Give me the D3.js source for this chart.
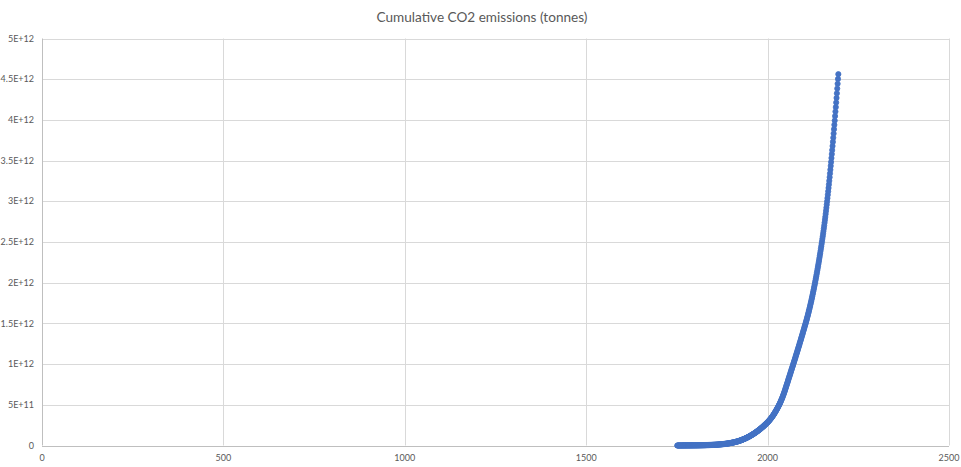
<!DOCTYPE html>
<html><head><meta charset="utf-8">
<script src="https://cdn.jsdelivr.net/npm/d3@7"></script>
<style>body{margin:0;background:#fff} svg{display:block}</style>
</head><body><svg id="c" width="961" height="467"></svg>
<script>
const chartTitle = "Cumulative CO2 emissions (tonnes)";
const firstYear = 1751;
const valueUnit = 1e9; // values below are in billions of tonnes
const cumulativeGt = [
0,0,0,0.1,0.1,0.1,0.1,0.2,0.2,0.2,0.2,0.3,0.3,0.3,0.3,0.4,0.4,0.4,0.5,0.5,0.5,0.6,0.6,0.6,0.7,0.7,0.7,0.8,0.8,0.9,0.9,0.9,1.0,1.0,1.1,1.1,1.2,1.2,1.3,1.3,1.3,1.4,1.4,1.5,1.5,1.6,1.6,1.7,1.7,1.7,
1.8,1.8,1.9,1.9,2.0,2.1,2.1,2.2,2.3,2.4,2.4,2.5,2.6,2.7,2.8,2.9,3.0,3.1,3.2,3.3,3.4,3.5,3.6,3.8,3.9,4.0,4.1,4.3,4.4,4.6,4.7,4.8,5.0,5.1,5.3,5.4,5.6,5.8,5.9,6.1,6.3,6.4,6.6,6.8,7.0,7.2,7.4,7.6,7.8,8.0,
8.2,8.4,8.7,8.9,9.1,9.4,9.7,9.9,10.2,10.5,10.8,11.1,11.5,11.8,12.1,12.5,12.9,13.2,13.6,14.0,14.4,14.8,15.3,15.7,16.1,16.6,17.1,17.5,18.0,18.5,
19.0,19.5,20.1,20.7,21.2,21.8,22.5,23.1,23.8,24.5,25.2,25.9,26.6,27.4,28.2,29.0,29.8,30.6,31.5,32.4,33.3,34.2,35.1,36.1,37.1,38.0,39.1,40.1,41.1,42.2,43.3,
44.4,45.6,46.8,48.0,49.2,50.5,51.9,53.2,54.6,56.1,57.5,59.0,60.6,62.1,63.8,65.4,67.1,68.8,70.5,72.3,74.2,76.0,77.9,79.8,81.8,83.8,85.8,87.9,90.0,92.1,94.3,96.5,98.7,101.0,103.3,105.7,108.1,
110,113,115,118,121,123,126,128,131,134,137,140,142,145,148,151,154,157,160,163,167,170,173,176,180,183,186,
190,193,197,200,204,208,211,215,219,223,227,230,234,238,243,247,251,255,259,264,268,272,277,281,286,290,
295,300,305,310,315,321,326,332,338,343,350,356,362,369,375,382,389,396,403,411,418,426,434,442,450,458,466,475,483,492,501,
510,520,529,539,550,560,571,582,593,605,617,629,642,654,667,681,694,708,
722,736,750,764,778,792,806,820,834,848,862,876,890,904,918,932,946,960,974,988,
1002,1016,1030,1044,1059,1073,1087,1102,1116,1130,1145,1159,1174,1188,1203,1218,1232,1247,1262,1277,1292,1307,1321,1336,1352,1367,1382,1397,1412,1427,1443,1458,1473,1489,1504,
1520,1536,1552,1569,1586,1603,1620,1638,1656,1674,1692,1711,1730,1750,1769,1789,1810,1830,1851,1872,1894,1915,1937,1959,1982,2005,
2028,2052,2076,2100,2125,2150,2175,2201,2227,2253,2280,2307,2335,2363,2391,2420,2449,2479,2508,
2539,2570,2602,2634,2667,2701,2736,2771,2807,2844,2882,2920,2959,2998,
3039,3080,3122,3164,3207,3251,3296,3342,3388,3435,3482,
3531,3580,3629,3679,3730,3781,3833,3886,3939,3992,
4047,4102,4157,4213,4270,4327,4385,4444,4503,4562
];
const xTicks = [0, 500, 1000, 1500, 2000, 2500];
const xTickLabels = ["0", "500", "1000", "1500", "2000", "2500"];
const yTicks = [0, 5e11, 1e12, 1.5e12, 2e12, 2.5e12, 3e12, 3.5e12, 4e12, 4.5e12, 5e12];
const yTickLabels = ["0", "5E+11", "1E+12", "1.5E+12", "2E+12", "2.5E+12", "3E+12", "3.5E+12", "4E+12", "4.5E+12", "5E+12"];

const points = cumulativeGt.map((v, i) => ({year: firstYear + i, value: v * valueUnit}));

const svg = d3.select("#c");
const W = 961, H = 467;
const m = {left: 42, right: 12, top: 38.5, bottom: 21.5};
const x = d3.scaleLinear().domain([0, 2500]).range([m.left, W - m.right]);
const y = d3.scaleLinear().domain([0, 5e12]).range([H - m.bottom, m.top]);
const font = "Lato, 'Open Sans', sans-serif";
const textCol = "#595959";

svg.append("rect").attr("width", W).attr("height", H).attr("fill", "#fff");

// gridlines
const g = svg.append("g");
g.selectAll("line.h").data(yTicks.slice(1)).join("line")
  .attr("x1", m.left).attr("x2", W - m.right)
  .attr("y1", d => Math.round(y(d)) + 0.5).attr("y2", d => Math.round(y(d)) + 0.5)
  .attr("stroke", "#d9d9d9").attr("stroke-width", 1);
g.selectAll("line.v").data(xTicks.slice(1)).join("line")
  .attr("y1", m.top).attr("y2", H - m.bottom)
  .attr("x1", d => Math.round(x(d)) + 0.5).attr("x2", d => Math.round(x(d)) + 0.5)
  .attr("stroke", "#d9d9d9").attr("stroke-width", 1);

// axes lines
svg.append("line").attr("x1", Math.round(x(0)) + 0.5).attr("x2", Math.round(x(0)) + 0.5)
  .attr("y1", m.top).attr("y2", H - m.bottom).attr("stroke", "#bfbfbf");
svg.append("line").attr("x1", m.left).attr("x2", W - m.right)
  .attr("y1", Math.round(y(0)) + 0.5).attr("y2", Math.round(y(0)) + 0.5).attr("stroke", "#bfbfbf");

// tick labels
svg.append("g").selectAll("text").data(yTicks).join("text")
  .attr("x", 34).attr("y", d => y(d)).attr("dy", "0.35em")
  .attr("text-anchor", "end").attr("font-family", font).attr("font-size", 9)
  .attr("fill", textCol).text((d, i) => yTickLabels[i]);
svg.append("g").selectAll("text").data(xTicks).join("text")
  .attr("x", d => x(d)).attr("y", 458).attr("dy", "0.35em")
  .attr("text-anchor", "middle").attr("font-family", font).attr("font-size", 9)
  .attr("fill", textCol).text((d, i) => xTickLabels[i]);

// title
svg.append("text").attr("x", 482).attr("y", 17).attr("dy", "0.35em")
  .attr("text-anchor", "middle").attr("font-family", font).attr("font-size", 13.6)
  .attr("fill", textCol).text(chartTitle);

// markers
svg.append("g").selectAll("circle").data(points).join("circle")
  .attr("cx", d => x(d.year)).attr("cy", d => y(d.value)).attr("r", 2.6)
  .attr("fill", "#4472c4").attr("stroke", "#4472c4").attr("stroke-width", 0.8);
</script>
</body></html>
